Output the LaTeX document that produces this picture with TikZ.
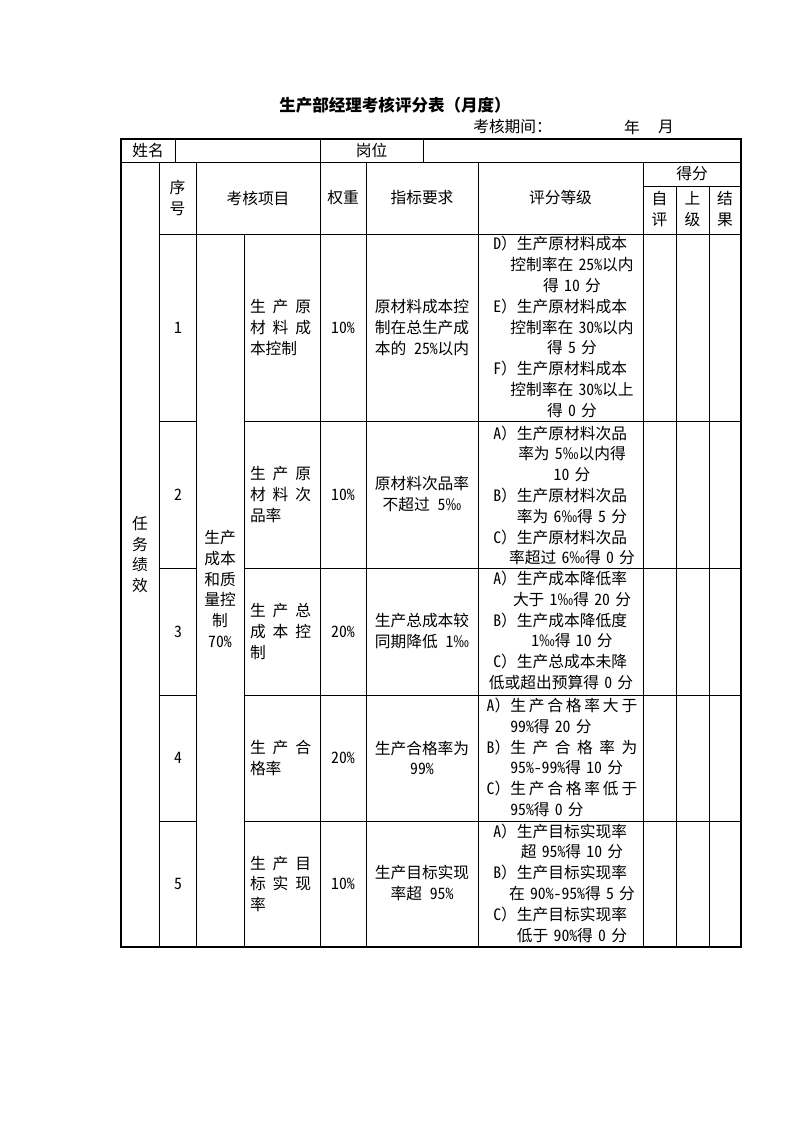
\documentclass[tikz,border=0pt]{standalone}
\usepackage{fontspec}
\setmainfont{Noto Sans CJK SC}[RawFeature=+hwid]
\newfontfamily\fw{Noto Sans CJK SC}
\setlength\parindent{0pt}
\newcommand\bodysize{\fontsize{11.8}{15.6}\selectfont}
\newcommand\titlesize{\fontsize{12.4}{15}\selectfont\bfseries}
\newcommand\sprd[1]{\makebox[45.75pt]{#1}}
\newcommand\jl[1]{\makebox[95.25pt]{#1}}
\newcommand\lbl[1]{\leavevmode\llap{#1{\fw ）}}}
\begin{document}
\begin{tikzpicture}[x=0.75pt,y=-0.75pt,
  gridline/.style={line width=0.6pt,black},
  frameline/.style={line width=1.4pt,black},
  txt/.style={inner sep=0pt,font=\bodysize,align=center},
  itemtxt/.style={txt,align=left,text width=45.75pt},
  gradetxt/.style={txt,text width=120pt},
  gradeleft/.style={txt,align=left,text width=112pt,anchor=west},
]
\fill[white] (0,0) rectangle (794,1123);
\useasboundingbox (0,0) rectangle (794,1123);

% title
\node[inner sep=0pt,font=\fw\titlesize] (title) at (395,105) {生产部经理考核评分表（月度）};
\node[txt,anchor=west] (period) at (473,127) {考核期间{\fw ：}};
\node[txt] (yr) at (632,127) {年};
\node[txt] (mo) at (666,127) {月};

% grid lines
\draw[gridline] (121,162) -- (741,162);
\draw[gridline] (643,186) -- (741,186);
\draw[gridline] (159,234) -- (741,234);
\foreach \y in {421,568,695,821}{
  \draw[gridline] (159,\y) -- (196,\y);
  \draw[gridline] (244,\y) -- (741,\y);
}
\draw[gridline] (175,139) -- (175,162);
\draw[gridline] (423,139) -- (423,162);
\draw[gridline] (320,139) -- (320,947);
\foreach \x in {159,196,366,478,643}{
  \draw[gridline] (\x,162) -- (\x,947);
}
\draw[gridline] (244,234) -- (244,947);
\draw[gridline] (676,186) -- (676,947);
\draw[gridline] (709,186) -- (709,947);
\draw[frameline] (121,139) rectangle (741,947);

% first row
\node[txt] (name) at (148,150.5) {姓名};
\node[txt] (post) at (371.5,150.5) {岗位};

% header
\node[txt] (hseq) at (177.5,198) {序\\号};
\node[txt] (hitem) at (258,198) {考核项目};
\node[txt] (hw) at (343,198) {权重};
\node[txt] (hreq) at (422,198) {指标要求};
\node[txt] (hgrade) at (560.5,198) {评分等级};
\node[txt] (hscore) at (692,174) {得分};
\node[txt] (hself) at (659.5,209) {自\\评};
\node[txt] (hsup) at (692.5,209) {上\\级};
\node[txt] (hres) at (725,209) {结\\果};

% merged columns
\node[txt] (task) at (140,554.5) {任\\务\\绩\\效};
\node[txt] (cat) at (220,589) {生产\\成本\\和质\\量控\\制\\70\%};

% sequence numbers
\node[txt] (s1) at (178,327.5) {1};
\node[txt] (s2) at (178,494.5) {2};
\node[txt] (s3) at (178,631.5) {3};
\node[txt] (s4) at (178,758) {4};
\node[txt] (s5) at (178,884) {5};

% weights
\node[txt] (w1) at (343,327.5) {10\%};
\node[txt] (w2) at (343,494.5) {10\%};
\node[txt] (w3) at (343,631.5) {20\%};
\node[txt] (w4) at (343,758) {20\%};
\node[txt] (w5) at (343,884) {10\%};

% items
\node[itemtxt] (i1) at (280.5,327.5) {\sprd{生\hfill 产\hfill 原}\\\sprd{材\hfill 料\hfill 成}\\本控制};
\node[itemtxt] (i2) at (280.5,494.5) {\sprd{生\hfill 产\hfill 原}\\\sprd{材\hfill 料\hfill 次}\\品率};
\node[itemtxt] (i3) at (280.5,631.5) {\sprd{生\hfill 产\hfill 总}\\\sprd{成\hfill 本\hfill 控}\\制};
\node[itemtxt] (i4) at (280.5,758) {\sprd{生\hfill 产\hfill 合}\\格率};
\node[itemtxt] (i5) at (280.5,884) {\sprd{生\hfill 产\hfill 目}\\\sprd{标\hfill 实\hfill 现}\\率};

% requirements
\node[txt] (r1) at (422,327.5) {原材料成本控\\制在总生产成\\本的 25\%以内};
\node[txt] (r2) at (422,494) {原材料次品率\\不超过 5‰};
\node[txt] (r3) at (422,631) {生产总成本较\\同期降低 1‰};
\node[txt] (r4) at (422,758) {生产合格率为\\99\%};
\node[txt] (r5) at (422,883) {生产目标实现\\率超 95\%};

% grades
\node[gradetxt] (g1) at (572,327) {\lbl{D}生产原材料成本\\控制率在 25\%以内\\得 10 分\\\lbl{E}生产原材料成本\\控制率在 30\%以内\\得 5 分\\\lbl{F}生产原材料成本\\控制率在 30\%以上\\得 0 分};
\node[gradetxt] (g2) at (572,495.5) {\lbl{A}生产原材料次品\\率为 5‰以内得\\10 分\\\lbl{B}生产原材料次品\\率为 6‰得 5 分\\\lbl{C}生产原材料次品\\率超过 6‰得 0 分};
\node[gradetxt] (g3) at (572,630.5) {\lbl{A}生产成本降低率\\大于 1‰得 20 分\\\lbl{B}生产成本降低度\\1‰得 10 分\\\lbl{C}生产总成本未降\\\hspace*{-16.5pt}低或超出预算得 0 分};
\node[gradeleft] (g4) at (510,757.5) {\lbl{A}\jl{生\hfill 产\hfill 合\hfill 格\hfill 率\hfill 大\hfill 于}\\99\%得 20 分\\\lbl{B}\jl{生\hfill 产\hfill 合\hfill 格\hfill 率\hfill 为}\\95\%-99\%得 10 分\\\lbl{C}\jl{生\hfill 产\hfill 合\hfill 格\hfill 率\hfill 低\hfill 于}\\95\%得 0 分};
\node[gradetxt] (g5) at (572,883) {\lbl{A}生产目标实现率\\超 95\%得 10 分\\\lbl{B}生产目标实现率\\在 90\%-95\%得 5 分\\\lbl{C}生产目标实现率\\低于 90\%得 0 分};
\end{tikzpicture}
\end{document}
